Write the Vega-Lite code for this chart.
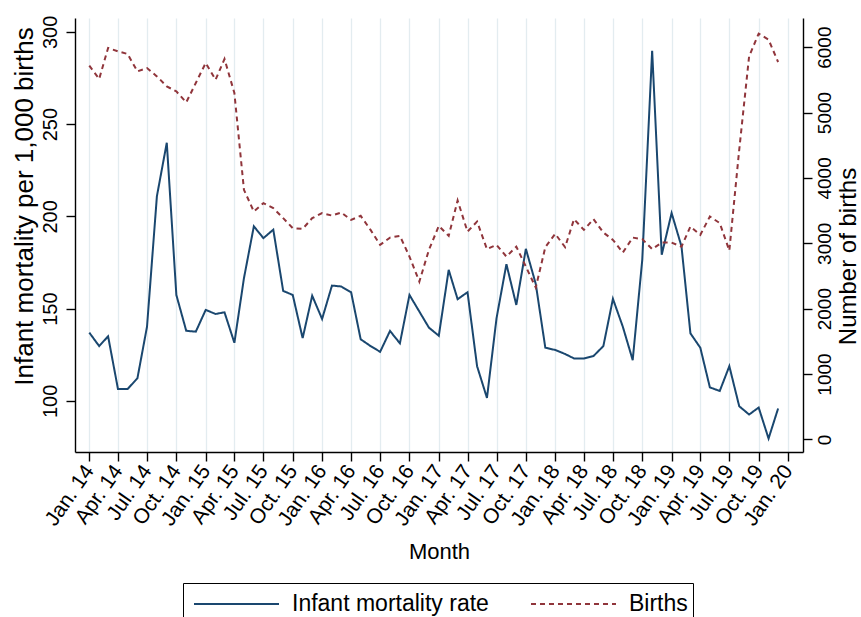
{
  "$schema": "https://vega.github.io/schema/vega-lite/v6.json",
  "width": 728,
  "height": 434,
  "autosize": "none",
  "padding": {"left": 75, "top": 18, "right": 58, "bottom": 165},
  "background": "white",
  "config": {
    "font": "Liberation Sans",
    "view": {"stroke": null},
    "axis": {
      "domainColor": "black",
      "domainWidth": 1.4,
      "tickColor": "black",
      "tickWidth": 1.4,
      "tickSize": 9,
      "labelColor": "black",
      "titleColor": "black",
      "titleFontWeight": "normal",
      "labelFont": "Liberation Sans",
      "titleFont": "Liberation Sans"
    }
  },
  "data": {
    "values": [
      {"month": "2014-01-01", "imr": 137.0, "births": 5717},
      {"month": "2014-02-01", "imr": 129.7, "births": 5513},
      {"month": "2014-03-01", "imr": 135.0, "births": 5988},
      {"month": "2014-04-01", "imr": 106.4, "births": 5936},
      {"month": "2014-05-01", "imr": 106.4, "births": 5896},
      {"month": "2014-06-01", "imr": 112.3, "births": 5630},
      {"month": "2014-07-01", "imr": 140.2, "births": 5681},
      {"month": "2014-08-01", "imr": 210.9, "births": 5553},
      {"month": "2014-09-01", "imr": 239.9, "births": 5400},
      {"month": "2014-10-01", "imr": 157.4, "births": 5323},
      {"month": "2014-11-01", "imr": 138.0, "births": 5155},
      {"month": "2014-12-01", "imr": 137.5, "births": 5452},
      {"month": "2015-01-01", "imr": 149.3, "births": 5758},
      {"month": "2015-02-01", "imr": 147.1, "births": 5502},
      {"month": "2015-03-01", "imr": 148.0, "births": 5819},
      {"month": "2015-04-01", "imr": 131.5, "births": 5298},
      {"month": "2015-05-01", "imr": 166.5, "births": 3818},
      {"month": "2015-06-01", "imr": 194.6, "births": 3486},
      {"month": "2015-07-01", "imr": 188.2, "births": 3614},
      {"month": "2015-08-01", "imr": 192.8, "births": 3537},
      {"month": "2015-09-01", "imr": 159.6, "births": 3384},
      {"month": "2015-10-01", "imr": 157.4, "births": 3231},
      {"month": "2015-11-01", "imr": 134.0, "births": 3220},
      {"month": "2015-12-01", "imr": 157.0, "births": 3384},
      {"month": "2016-01-01", "imr": 144.4, "births": 3461},
      {"month": "2016-02-01", "imr": 162.5, "births": 3424},
      {"month": "2016-03-01", "imr": 162.0, "births": 3470},
      {"month": "2016-04-01", "imr": 158.9, "births": 3358},
      {"month": "2016-05-01", "imr": 133.4, "births": 3420},
      {"month": "2016-06-01", "imr": 129.7, "births": 3205},
      {"month": "2016-07-01", "imr": 126.6, "births": 2975},
      {"month": "2016-08-01", "imr": 137.9, "births": 3087},
      {"month": "2016-09-01", "imr": 131.2, "births": 3113},
      {"month": "2016-10-01", "imr": 157.4, "births": 2796},
      {"month": "2016-11-01", "imr": 148.4, "births": 2413},
      {"month": "2016-12-01", "imr": 139.7, "births": 2899},
      {"month": "2017-01-01", "imr": 135.3, "births": 3266},
      {"month": "2017-02-01", "imr": 171.0, "births": 3113},
      {"month": "2017-03-01", "imr": 155.1, "births": 3654},
      {"month": "2017-04-01", "imr": 158.9, "births": 3179},
      {"month": "2017-05-01", "imr": 118.8, "births": 3332},
      {"month": "2017-06-01", "imr": 101.6, "births": 2910},
      {"month": "2017-07-01", "imr": 144.8, "births": 2975},
      {"month": "2017-08-01", "imr": 174.1, "births": 2796},
      {"month": "2017-09-01", "imr": 152.0, "births": 2949},
      {"month": "2017-10-01", "imr": 182.4, "births": 2643},
      {"month": "2017-11-01", "imr": 163.4, "births": 2322},
      {"month": "2017-12-01", "imr": 128.8, "births": 2940},
      {"month": "2018-01-01", "imr": 127.6, "births": 3144},
      {"month": "2018-02-01", "imr": 125.4, "births": 2940},
      {"month": "2018-03-01", "imr": 123.0, "births": 3369},
      {"month": "2018-04-01", "imr": 123.0, "births": 3205},
      {"month": "2018-05-01", "imr": 124.3, "births": 3369},
      {"month": "2018-06-01", "imr": 129.7, "births": 3164},
      {"month": "2018-07-01", "imr": 155.3, "births": 3052},
      {"month": "2018-08-01", "imr": 140.2, "births": 2858},
      {"month": "2018-09-01", "imr": 122.1, "births": 3087},
      {"month": "2018-10-01", "imr": 176.5, "births": 3063},
      {"month": "2018-11-01", "imr": 289.7, "births": 2910},
      {"month": "2018-12-01", "imr": 179.2, "births": 3011},
      {"month": "2019-01-01", "imr": 201.8, "births": 3011},
      {"month": "2019-02-01", "imr": 183.7, "births": 2949},
      {"month": "2019-03-01", "imr": 136.6, "births": 3256},
      {"month": "2019-04-01", "imr": 128.8, "births": 3129},
      {"month": "2019-05-01", "imr": 107.3, "births": 3409},
      {"month": "2019-06-01", "imr": 105.4, "births": 3308},
      {"month": "2019-07-01", "imr": 118.8, "births": 2888},
      {"month": "2019-08-01", "imr": 97.1, "births": 4430},
      {"month": "2019-09-01", "imr": 92.6, "births": 5859},
      {"month": "2019-10-01", "imr": 96.4, "births": 6207},
      {"month": "2019-11-01", "imr": 79.6, "births": 6115},
      {"month": "2019-12-01", "imr": 95.9, "births": 5773}
    ]
  },
  "transform": [
    {"fold": ["imr", "births"], "as": ["series", "value"]}
  ],
  "encoding": {
    "x": {
      "field": "month",
      "type": "temporal",
      "scale": {
        "type": "utc",
        "nice": false,
        "domain": [
          {"year": 2013, "month": 11, "date": 17, "hours": 5, "utc": true},
          {"year": 2020, "month": 2, "date": 17, "utc": true}
        ]
      },
      "axis": {
        "title": "Month",
        "titleFontSize": 22,
        "titleY": 99,
        "titleBaseline": "middle",
        "labelFontSize": 21,
        "labelAngle": -55,
        "labelAlign": "right",
        "labelBaseline": "middle",
        "labelPadding": 6,
        "labelExpr": "utcFormat(datum.value, '%b. %y')",
        "tickCount": {"interval": "month", "step": 3},
        "labelOverlap": false,
        "labelFlush": false,
        "grid": true,
        "gridColor": "#e3ecf0",
        "gridWidth": 1.3
      }
    },
    "color": {
      "field": "series",
      "type": "nominal",
      "scale": {"domain": ["imr", "births"], "range": ["#1a476f", "#90353b"]},
      "legend": {
        "title": null,
        "orient": "none",
        "legendX": 108,
        "legendY": 565,
        "direction": "horizontal",
        "labelExpr": "datum.label == 'imr' ? 'Infant mortality rate' : 'Births'",
        "labelFontSize": 23,
        "labelColor": "black",
        "labelFont": "Liberation Sans",
        "labelLimit": 500,
        "labelOffset": 72,
        "columnPadding": 36,
        "padding": 5,
        "strokeColor": "black",
        "symbolType": "M-0.667,0H5",
        "symbolSize": 900,
        "symbolStrokeWidth": 2
      }
    },
    "strokeDash": {
      "field": "series",
      "type": "nominal",
      "scale": {"domain": ["imr", "births"], "range": [[1, 0], [5, 4]]},
      "legend": {
        "title": null,
        "orient": "none",
        "legendX": 108,
        "legendY": 565,
        "direction": "horizontal",
        "labelExpr": "datum.label == 'imr' ? 'Infant mortality rate' : 'Births'",
        "labelFontSize": 23,
        "labelColor": "black",
        "labelFont": "Liberation Sans",
        "labelLimit": 500,
        "labelOffset": 72,
        "columnPadding": 36,
        "padding": 5,
        "strokeColor": "black",
        "symbolType": "M-0.667,0H5",
        "symbolSize": 900,
        "symbolStrokeWidth": 2
      }
    }
  },
  "layer": [
    {
      "transform": [{"filter": "datum.series == 'imr'"}],
      "mark": {"type": "line", "strokeWidth": 2},
      "encoding": {
        "y": {
          "field": "value",
          "type": "quantitative",
          "scale": {"domain": [72.3, 307.5], "nice": false, "zero": false},
          "axis": {
            "title": "Infant mortality per 1,000 births",
            "titleFontSize": 26,
            "titleAngle": -90,
            "titleAlign": "center",
            "titleBaseline": "middle",
            "titleX": -51,
            "titleY": 188,
            "values": [100, 150, 200, 250, 300],
            "labelAngle": -90,
            "labelFontSize": 20,
            "labelPadding": 6,
            "grid": false
          }
        }
      }
    },
    {
      "transform": [{"filter": "datum.series == 'births'"}],
      "mark": {"type": "line", "strokeWidth": 2},
      "encoding": {
        "y": {
          "field": "value",
          "type": "quantitative",
          "scale": {"domain": [-193, 6446], "nice": false, "zero": false},
          "axis": {
            "orient": "right",
            "title": "Number of births",
            "titleFontSize": 24,
            "titleAngle": -90,
            "titleAlign": "center",
            "titleBaseline": "middle",
            "titleX": 45,
            "titleY": 238,
            "format": "d",
            "values": [0, 1000, 2000, 3000, 4000, 5000, 6000],
            "labelAngle": -90,
            "labelFontSize": 19,
            "labelPadding": 3,
            "grid": false
          }
        }
      }
    }
  ],
  "resolve": {"scale": {"y": "independent"}}
}
